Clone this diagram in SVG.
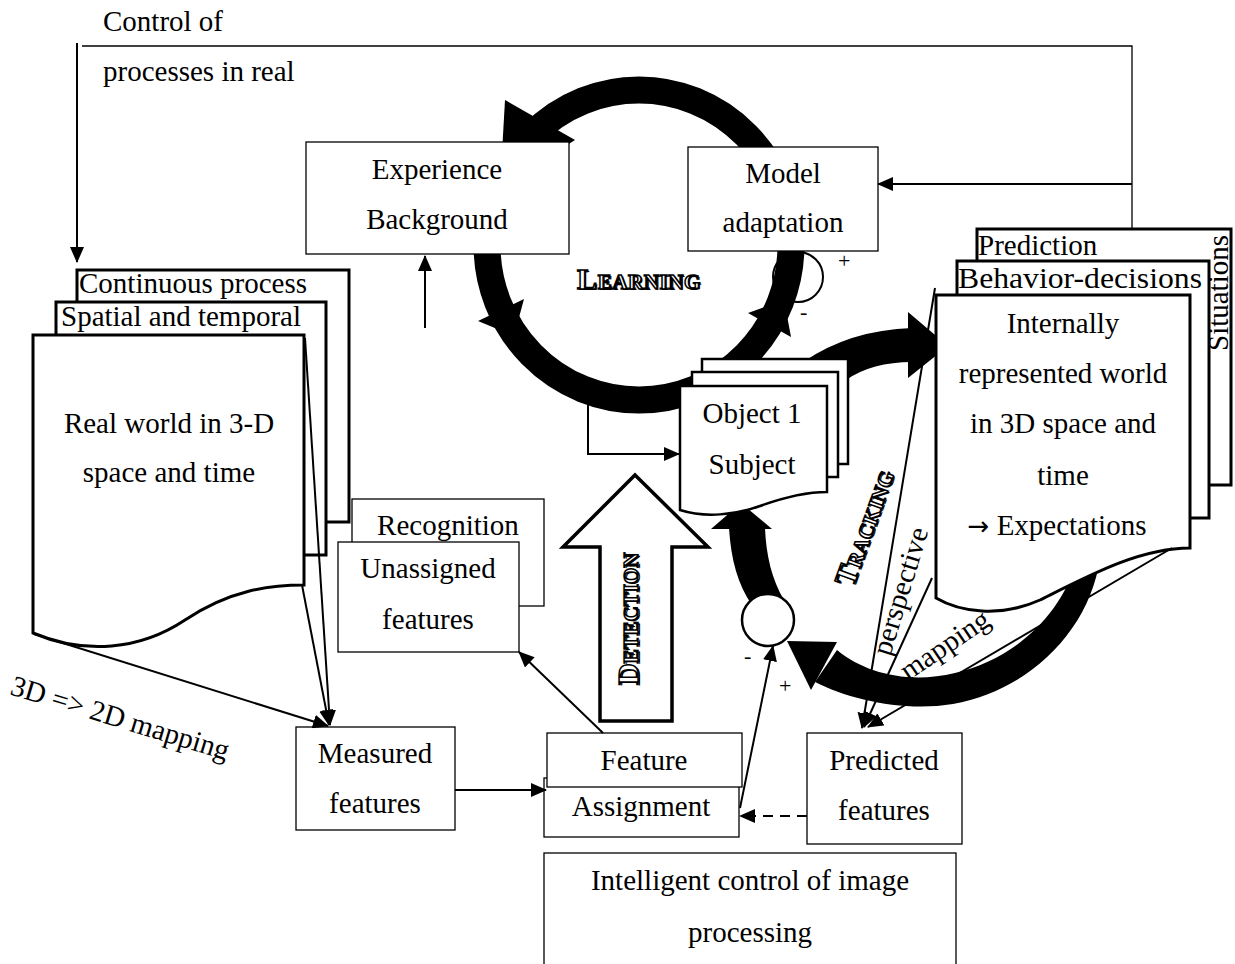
<svg xmlns="http://www.w3.org/2000/svg" width="1235" height="964" viewBox="0 0 1235 964">
<style>
.t{font-family:"Liberation Serif","Times New Roman",serif;font-size:29px;fill:#000}
.c{text-anchor:middle}
.sm{font-size:22px}
.box{fill:#fff;stroke:#000;stroke-width:1.3}
.doc{fill:#fff;stroke:#000;stroke-width:3}
.doc2{fill:#fff;stroke:#000;stroke-width:2.5}
.ln{fill:none;stroke:#000;stroke-width:2}
.thin{fill:none;stroke:#000;stroke-width:1.3}
.band{fill:#000;stroke:none}
.eng{font-family:"Liberation Serif","Times New Roman",serif;font-weight:bold;font-size:30px;fill:#fff;stroke:#000;stroke-width:1.5}
.engs{font-family:"Liberation Serif","Times New Roman",serif;font-weight:bold;font-size:30px;fill:#000}
</style>
<defs>
<marker id="ah" markerUnits="userSpaceOnUse" markerWidth="16" markerHeight="14" viewBox="0 0 16 14" refX="15" refY="7" orient="auto"><path d="M0,0 L16,7 L0,14 Z" fill="#000"/></marker>
</defs>
<rect width="1235" height="964" fill="#fff"/>

<g id="learning-ring">
<circle cx="798" cy="277" r="25" fill="none" stroke="#000" stroke-width="2"/>
<ellipse cx="639" cy="245" rx="152" ry="155" fill="none" stroke="#000" stroke-width="27"/>
<polygon class="band" points="505,100 575,140 500,188"/>
<polygon class="band" points="478,321 524,299 514,336"/>
<polygon class="band" points="748,313 791,337 784,300"/>
</g>

<g id="tracking-ring">
<path class="band" d="M803,362 Q850,330 912,328 L912,362 Q872,362 846,380 Z"/>
<polygon class="band" points="908,312 948,346 908,378"/>
<path class="band" d="M1100,558 C1090,630 1030,690 953,704 C905,712 850,700 815,682 L837,650 C866,674 910,684 955,673 C1010,660 1060,620 1078,558 Z"/>
<polygon class="band" points="837,642 811,690 787,641"/>
<path class="band" d="M729,528 C731,560 738,585 752,605 L784,600 C772,580 766,555 765,528 Z"/>
<polygon class="band" points="711,529 772,529 741,503"/>
<circle cx="768" cy="620" r="26" fill="#fff" stroke="#000" stroke-width="2.5"/>
</g>

<g id="experience">
<rect class="box" x="306" y="142" width="263" height="112"/>
<text class="t c" x="437" y="179">Experience</text>
<text class="t c" x="437" y="229">Background</text>
</g>

<g id="model">
<rect class="box" x="688" y="147" width="190" height="104"/>
<text class="t c" x="783" y="183">Model</text>
<text class="t c" x="783" y="232">adaptation</text>
</g>

<g id="real-world">
<rect class="doc" x="77" y="270" width="272" height="252"/>
<rect class="doc" x="56" y="302" width="270" height="253"/>
<path class="doc" d="M33,335 L304,335 L304,585 C270,585 230,590 185,620 C140,650 85,655 33,633 Z"/>
<text class="t" x="79" y="293">Continuous process</text>
<text class="t" x="61" y="326">Spatial and temporal</text>
<text class="t c" x="169" y="433">Real world in 3-D</text>
<text class="t c" x="169" y="482">space and time</text>
</g>

<g id="object">
<rect class="doc2" x="702" y="359" width="146" height="105"/>
<rect class="doc2" x="692" y="372" width="146" height="105"/>
<path class="doc2" d="M680,386 L827,386 L827,492 C808,492 785,497 760,506 C735,515 705,518 680,510 Z"/>
<text class="t c" x="752" y="423">Object 1</text>
<text class="t c" x="752" y="474">Subject</text>
</g>

<g id="internal-world">
<rect class="doc" x="977" y="229" width="254" height="256"/>
<rect class="doc" x="957" y="261" width="252" height="257"/>
<path class="doc" d="M936,295 L1190,295 L1190,548 C1140,548 1090,575 1040,600 C1000,618 960,612 936,598 Z"/>
<text class="t" x="978" y="255">Prediction</text>
<text class="t" x="958" y="288" textLength="244" lengthAdjust="spacingAndGlyphs">Behavior-decisions</text>
<text class="t" transform="translate(1228,351) rotate(-90)">Situations</text>
<text class="t c" x="1063" y="333">Internally</text>
<text class="t c" x="1063" y="383">represented world</text>
<text class="t c" x="1063" y="433">in 3D space and</text>
<text class="t c" x="1063" y="485">time</text>
<text class="t c" x="1057" y="535"><tspan font-family="DejaVu Sans" font-size="26">→</tspan> Expectations</text>
</g>

<g id="recognition">
<rect class="box" x="352" y="499" width="192" height="107"/>
<text class="t c" x="448" y="535">Recognition</text>
<rect class="box" x="338" y="542" width="181" height="110"/>
<text class="t c" x="428" y="578">Unassigned</text>
<text class="t c" x="428" y="629">features</text>
</g>

<g id="detection">
<polygon points="635,475 708,547 672,547 672,721 600,721 600,547 563,547" fill="#fff" stroke="#000" stroke-width="3.5" stroke-linejoin="miter"/>
<text class="engs" transform="translate(639.5,686) rotate(-90)">D<tspan font-size="21">ETECTION</tspan></text>
<text class="eng" transform="translate(638,685) rotate(-90)">D<tspan font-size="21">ETECTION</tspan></text>
</g>

<g id="measured">
<rect class="box" x="296" y="727" width="159" height="103"/>
<text class="t c" x="375" y="763">Measured</text>
<text class="t c" x="375" y="813">features</text>
</g>

<g id="feature-assignment">
<rect class="box" x="544" y="778" width="195" height="59"/>
<rect class="box" x="547" y="733" width="195" height="54"/>
<text class="t c" x="644" y="770">Feature</text>
<text class="t c" x="641" y="816">Assignment</text>
</g>

<g id="predicted">
<rect class="box" x="807" y="733" width="155" height="111" stroke-width="1.5"/>
<text class="t c" x="884" y="770">Predicted</text>
<text class="t c" x="884" y="820">features</text>
</g>

<g id="intelligent">
<rect class="box" x="544" y="853" width="412" height="125"/>
<text class="t c" x="750" y="890">Intelligent control of image</text>
<text class="t c" x="750" y="942">processing</text>
</g>

<g id="connectors">
<line class="ln" x1="77" y1="43" x2="77" y2="262" marker-end="url(#ah)"/>
<polyline class="thin" points="82,46 1132,46 1132,229"/>
<line class="ln" x1="1132" y1="184" x2="878" y2="184" marker-end="url(#ah)"/>
<line class="ln" x1="425" y1="328" x2="425" y2="256" marker-end="url(#ah)"/>
<polyline class="ln" points="588,402 588,454 679,454" marker-end="url(#ah)"/>
<line class="ln" x1="305" y1="338" x2="330" y2="725" marker-end="url(#ah)"/>
<line class="ln" x1="302" y1="585" x2="329" y2="725" marker-end="url(#ah)"/>
<line class="ln" x1="34" y1="634" x2="328" y2="726" marker-end="url(#ah)"/>
<line class="ln" x1="455" y1="790" x2="546" y2="790" stroke-width="2.5" marker-end="url(#ah)"/>
<line class="ln" x1="603" y1="733" x2="519" y2="652" marker-end="url(#ah)"/>
<line class="ln" x1="740" y1="808" x2="773" y2="646" marker-end="url(#ah)"/>
<line class="ln" x1="807" y1="816" x2="740" y2="816" stroke-width="3" stroke-dasharray="10,7" marker-end="url(#ah)"/>
<line class="ln" x1="935" y1="288" x2="862" y2="728" stroke-width="1.8" marker-end="url(#ah)"/>
<line class="ln" x1="932" y1="578" x2="864" y2="727" stroke-width="1.8" marker-end="url(#ah)"/>
<line class="ln" x1="1172" y1="548" x2="868" y2="727" stroke-width="1.8" marker-end="url(#ah)"/>
</g>

<g id="labels">
<text class="t" x="103" y="31">Control of</text>
<text class="t" x="103" y="81">processes in real</text>
<text class="t" transform="translate(9,694) rotate(17)">3D =&gt; 2D mapping</text>
<text class="engs" x="578.5" y="290" letter-spacing="0.6">L<tspan font-size="21">EARNING</tspan></text>
<text class="eng" x="577" y="289" letter-spacing="0.6">L<tspan font-size="21">EARNING</tspan></text>
<text class="engs" transform="translate(854.5,589) rotate(-70)">T<tspan font-size="21">RACKING</tspan></text>
<text class="eng" transform="translate(853,588) rotate(-70)">T<tspan font-size="21">RACKING</tspan></text>
<text class="t" transform="translate(890,657) rotate(-73)">perspective</text>
<text class="t" transform="translate(908,681) rotate(-34)">mapping</text>
<text class="t sm" x="838" y="268">+</text>
<text class="t sm" x="800" y="319">-</text>
<text class="t sm" x="744" y="663">-</text>
<text class="t sm" x="779" y="693">+</text>
</g>
</svg>
